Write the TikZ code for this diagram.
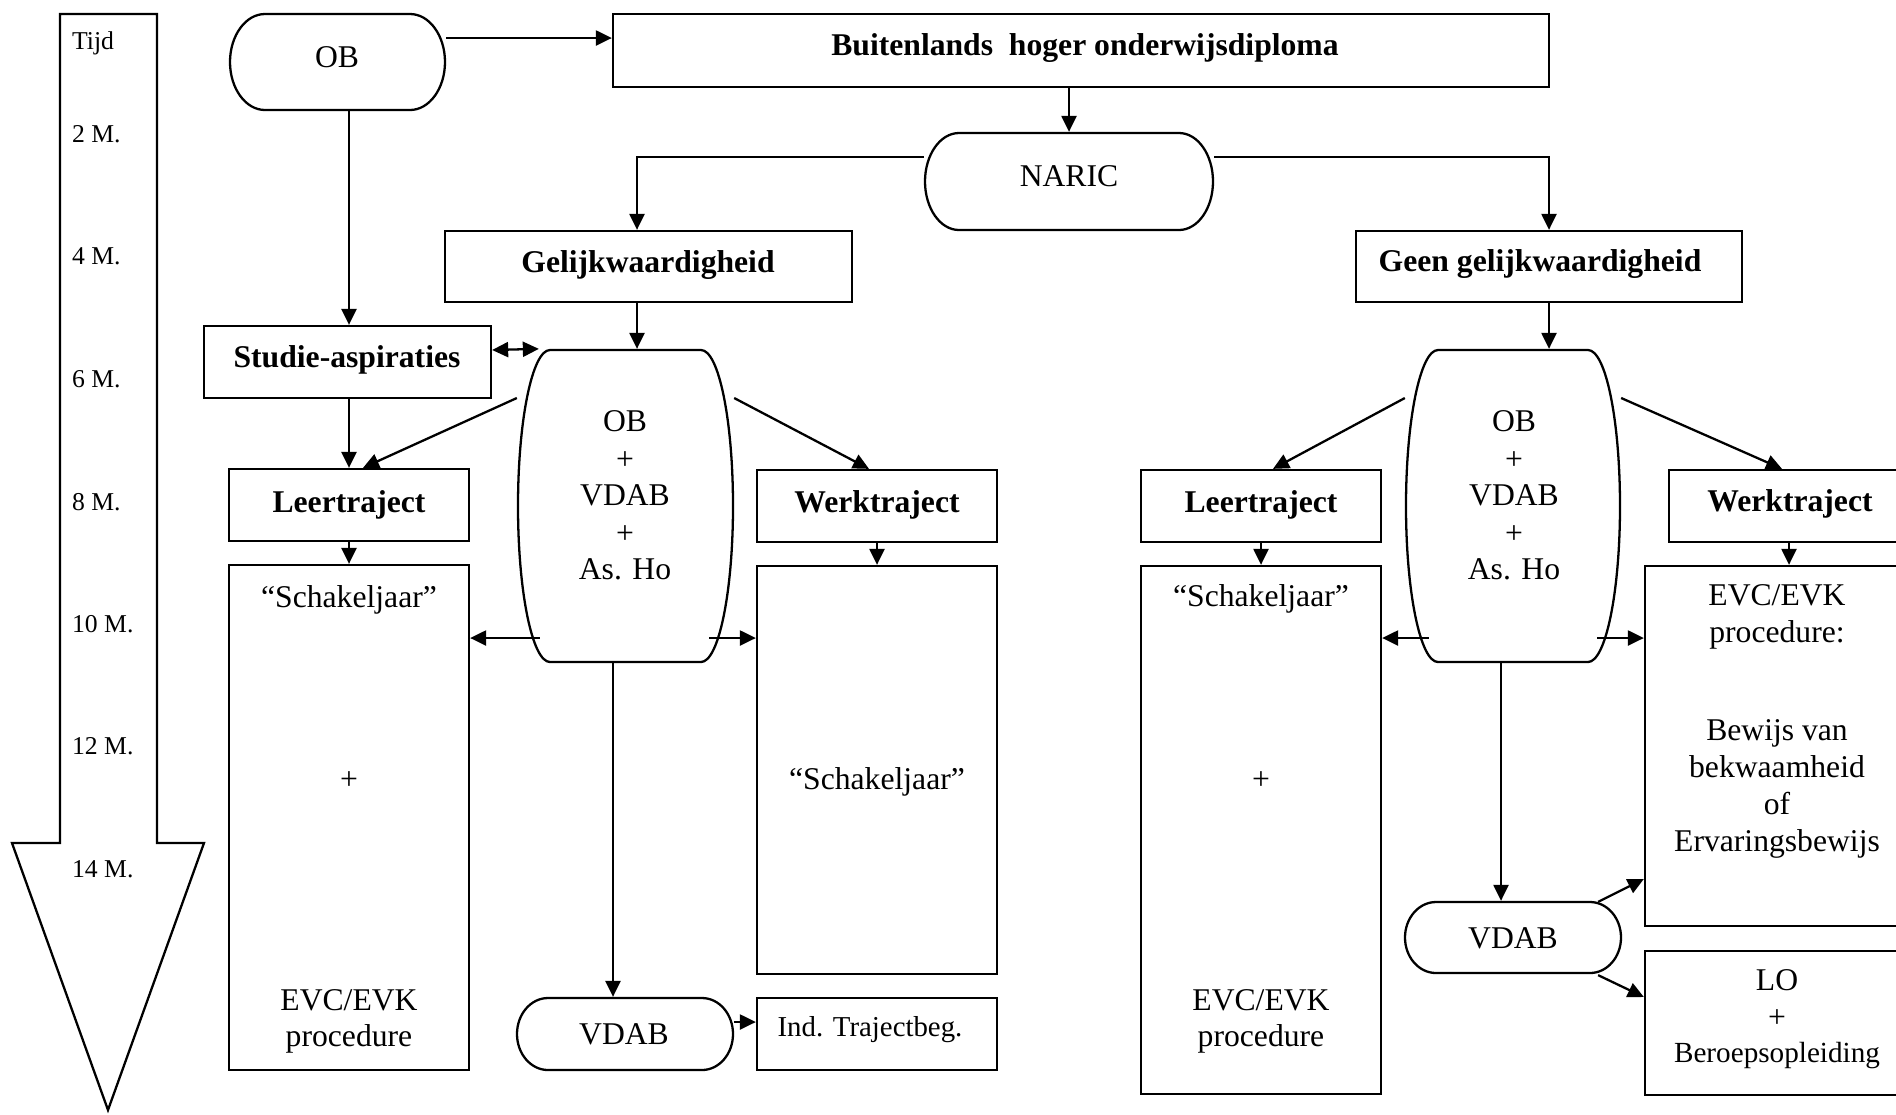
\documentclass[tikz,border=0pt]{standalone}
\usepackage{fontspec}
\setmainfont{Liberation Serif}
\usetikzlibrary{arrows.meta,fit,calc}
\newcommand\pillpath[6]{\draw (#1+#5,#2) -- (#3-#5,#2) arc[start angle=-90,end angle=90,x radius=#5,y radius=#6] -- (#1+#5,#4) arc[start angle=90,end angle=270,x radius=#5,y radius=#6] -- cycle;}
\begin{document}
\begin{tikzpicture}[x=0.01cm,y=-0.01cm,
  line width=0.65pt,
  arr/.style={-{Triangle[length=0.16cm,width=0.15cm]}},
  darr/.style={{Triangle[length=0.16cm,width=0.15cm]}-{Triangle[length=0.16cm,width=0.15cm]}},
  box/.style={draw, inner sep=0pt},
  area/.style={inner sep=0pt},
  txt/.style={inner sep=0pt, anchor=base, font=\fontsize{9}{10.8}\selectfont},
  btxt/.style={txt, font=\fontsize{9}{10.8}\selectfont\bfseries},
  stxt/.style={inner sep=0pt, anchor=base west, font=\fontsize{7.3}{9}\selectfont},
]
\fill[white] (0,0) rectangle (1896,1114);
\path[use as bounding box] (0,0) rectangle (1896,1114);
\clip (0,0) rectangle (1896,1114);

% time arrow
\draw (60,14) -- (157,14) -- (157,843) -- (204,843) -- (108,1110) -- (12,843) -- (60,843) -- cycle;
\node[area, fit={(12,14)(204,1110)}] (time) {};
\node[stxt] (tT) at (71,49) {Tijd};
\node[stxt] (t2) at (71,142) {2 M.};
\node[stxt] (t4) at (71,264) {4 M.};
\node[stxt] (t6) at (71,387) {6 M.};
\node[stxt] (t8) at (71,510) {8 M.};
\node[stxt] (t10) at (71,632) {10 M.};
\node[stxt] (t12) at (71,754) {12 M.};
\node[stxt] (t14) at (71,877) {14 M.};

% rounded shapes
\pillpath{230}{14}{445}{110}{35}{48}
\node[area, fit={(230,14)(445,110)}] (ob) {};
\pillpath{925}{133}{1213}{230}{34}{48.5}
\node[area, fit={(925,133)(1213,230)}] (nar) {};
\pillpath{518}{350}{733}{662}{32}{156}
\node[area, fit={(518,350)(733,662)}] (obl) {};
\pillpath{1406}{350}{1620}{662}{32}{156}
\node[area, fit={(1406,350)(1620,662)}] (obr) {};
\pillpath{517}{998}{733}{1070}{31}{36}
\node[area, fit={(517,998)(733,1070)}] (vdL) {};
\pillpath{1405}{902}{1621}{973}{31}{35.5}
\node[area, fit={(1405,902)(1621,973)}] (vdR) {};

% boxes
\node[box, fit={(613,14)(1549,87)}] (bhd) {};
\node[box, fit={(445,231)(852,302)}] (gel) {};
\node[box, fit={(1356,231)(1742,302)}] (geen) {};
\node[box, fit={(204,326)(491,398)}] (stu) {};
\node[box, fit={(229,469)(469,541)}] (leL) {};
\node[box, fit={(757,470)(997,542)}] (weL) {};
\node[box, fit={(229,565)(469,1070)}] (schL) {};
\node[box, fit={(757,566)(997,974)}] (schM) {};
\node[box, fit={(757,998)(997,1070)}] (ind) {};
\node[box, fit={(1141,470)(1381,542)}] (leR) {};
\node[box, fit={(1669,470)(1930,542)}] (weR) {};
\node[box, fit={(1141,566)(1381,1094)}] (schR) {};
\node[box, fit={(1645,566)(1930,926)}] (evcR) {};
\node[box, fit={(1645,951)(1930,1095)}] (loR) {};

% texts
\node[txt] (tob) at (337,67) {OB};
\node[btxt] (tbhd) at (1085,55) {Buitenlands\ \ hoger onderwijsdiploma};
\node[txt] (tnar) at (1069,186) {NARIC};
\node[btxt] (tgel) at (648,272) {Gelijkwaardigheid};
\node[btxt] (tgeen) at (1540,271) {Geen gelijkwaardigheid};
\node[btxt] (tstu) at (347,367) {Studie-aspiraties};

\node[txt] (ol1) at (625,431) {OB};
\node[txt] (ol2) at (625,469) {+};
\node[txt] (ol3) at (625,505) {VDAB};
\node[txt] (ol4) at (625,543) {+};
\node[txt] (ol5) at (625,579) {As. Ho};
\node[txt] (or1) at (1514,431) {OB};
\node[txt] (or2) at (1514,469) {+};
\node[txt] (or3) at (1514,505) {VDAB};
\node[txt] (or4) at (1514,543) {+};
\node[txt] (or5) at (1514,579) {As. Ho};

\node[btxt] (tleL) at (349,512) {Leertraject};
\node[btxt] (tweL) at (877,512) {Werktraject};
\node[btxt] (tleR) at (1261,512) {Leertraject};
\node[btxt] (tweR) at (1790,511) {Werktraject};

\node[txt] (sl1) at (349,607) {“Schakeljaar”};
\node[txt] (sl2) at (349,789) {+};
\node[txt] (sl3) at (349,1010) {EVC/EVK};
\node[txt] (sl4) at (349,1046) {procedure};
\node[txt] (sr1) at (1261,606) {“Schakeljaar”};
\node[txt] (sr2) at (1261,789) {+};
\node[txt] (sr3) at (1261,1010) {EVC/EVK};
\node[txt] (sr4) at (1261,1046) {procedure};
\node[txt] (sm1) at (877,789) {“Schakeljaar”};
\node[txt, font=\fontsize{8.2}{10}\selectfont] (tind) at (870,1036) {Ind. Trajectbeg.};
\node[txt] (tvdL) at (624,1044) {VDAB};
\node[txt] (tvdR) at (1513,948) {VDAB};

\node[txt] (e1) at (1777,605) {EVC/EVK};
\node[txt] (e2) at (1777,642) {procedure:};
\node[txt] (e3) at (1777,740) {Bewijs van};
\node[txt] (e4) at (1777,777) {bekwaamheid};
\node[txt] (e5) at (1777,814) {of};
\node[txt] (e6) at (1777,851) {Ervaringsbewijs};
\node[txt] (l1) at (1777,990) {LO};
\node[txt] (l2) at (1777,1027) {+};
\node[txt, font=\fontsize{8.3}{10}\selectfont] (l3) at (1777,1062) {Beroepsopleiding};

% connectors
\draw[arr] (ob.east |- 0,38) -- (bhd.west |- 0,38);
\draw[arr] (bhd.south -| nar.north) -- (nar.north);
\draw[arr] (nar.west |- 0,157) -| (gel.north -| 637,0);
\draw[arr] (nar.east |- 0,157) -| (geen.north);
\draw[arr] (ob.south -| 349,0) -- (stu.north -| 349,0);
\draw[darr] (stu.east |- 0,350) -- ($(obl.north west)+(22,0)$);
\draw[arr] (gel.south -| 637,0) -- (obl.north -| 637,0);
\draw[arr] (obl.west |- 0,398) -- (leL.north -| 363,0);
\draw[arr] (obl.east |- 0,398) -- (weL.north -| 869,0);
\draw[arr] (stu.south -| leL.north) -- (leL.north);
\draw[arr] (leL.south) -- (schL.north);
\draw[arr] (weL.south) -- (schM.north);
\draw[arr] ($(obl.west |- 0,638)+(23,0)$) -- (schL.east |- 0,638);
\draw[arr] ($(obl.east |- 0,638)+(-25,0)$) -- (schM.west |- 0,638);
\draw[arr] (obl.south -| 613,0) -- (vdL.north -| 613,0);
\draw[arr] (vdL.east |- 0,1022) -- (ind.west |- 0,1022);

\draw[arr] (geen.south) -- (obr.north -| geen.south);
\draw[arr] (obr.west |- 0,398) -- (leR.north -| 1273,0);
\draw[arr] (obr.east |- 0,398) -- (weR.north -| 1782,0);
\draw[arr] (leR.south) -- (schR.north);
\draw[arr] (weR.south -| 1789,0) -- (evcR.north -| 1789,0);
\draw[arr] ($(obr.west |- 0,638)+(24,0)$) -- (schR.east |- 0,638);
\draw[arr] ($(obr.east |- 0,638)+(-24,0)$) -- (evcR.west |- 0,638);
\draw[arr] (obr.south -| 1501,0) -- (vdR.north -| 1501,0);
\draw[arr] ($(vdR.north east)+(-24,1)$) -- (evcR.west |- 0,879);
\draw[arr] ($(vdR.south east)+(-24,1)$) -- (evcR.west |- 0,997);
\end{tikzpicture}
\end{document}
